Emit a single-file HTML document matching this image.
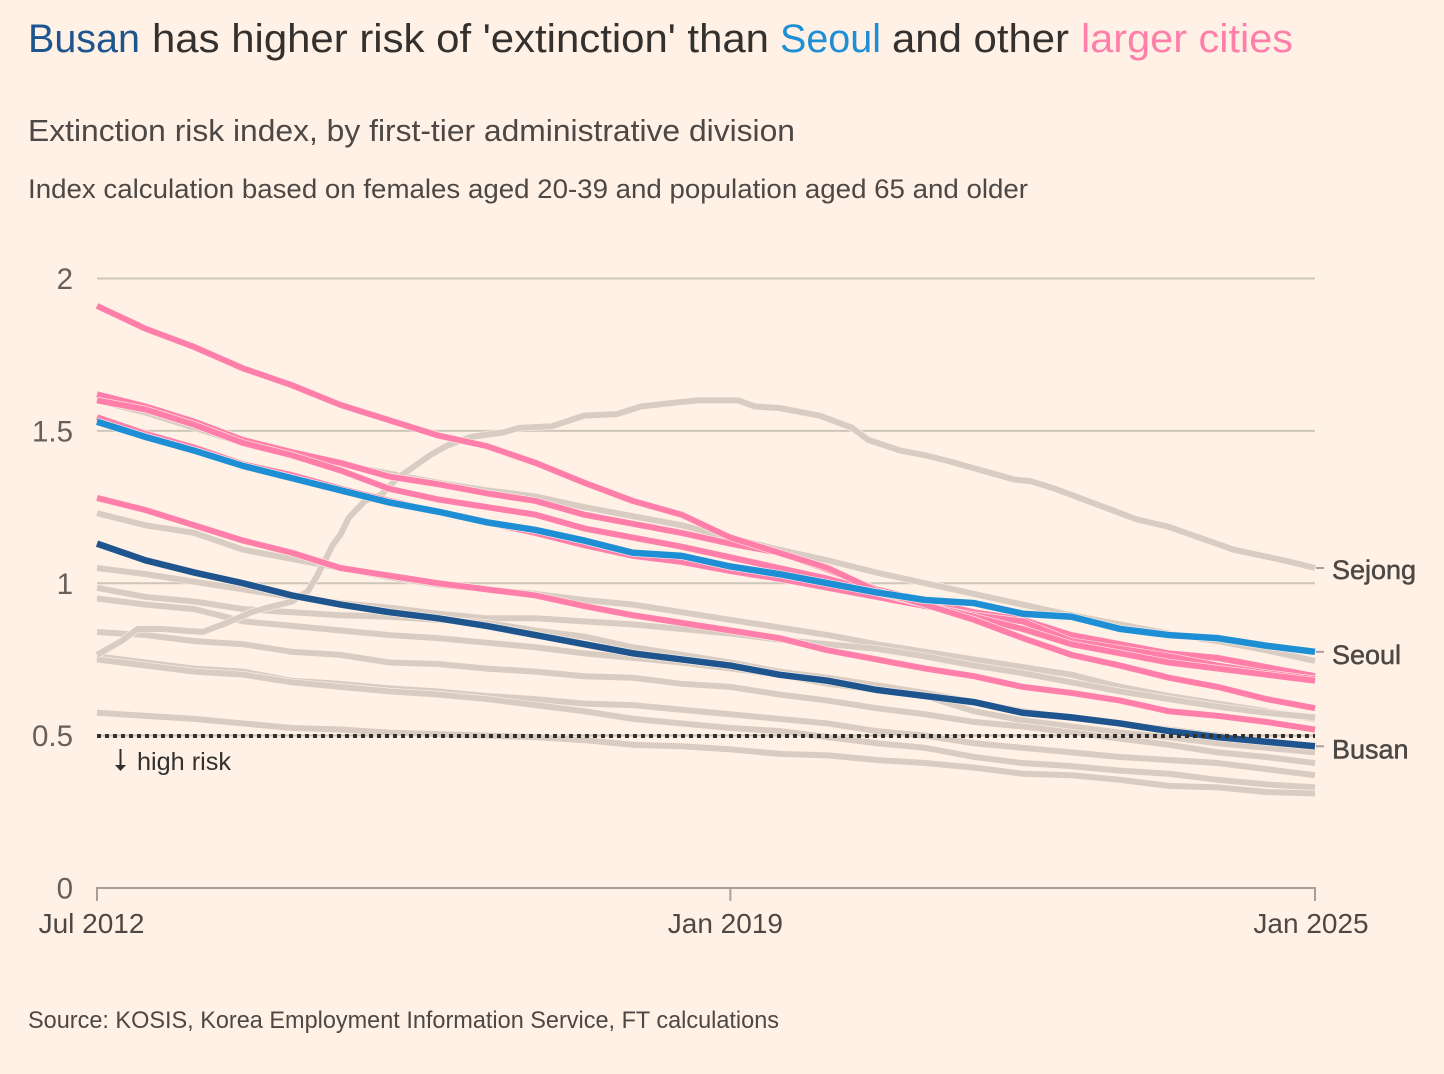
<!DOCTYPE html>
<html lang="en">
<head>
<meta charset="utf-8">
<title>Busan has higher risk of extinction</title>
<style>
html,body{margin:0;padding:0;background:#FFF1E5;}
svg{display:block;font-family:"Liberation Sans",sans-serif;}
</style>
</head>
<body>
<svg id="chart" xmlns="http://www.w3.org/2000/svg" width="1444" height="1074" viewBox="0 0 1444 1074">
  <rect x="0" y="0" width="1444" height="1074" fill="#FFF1E5"/>
  <g font-size="40">
    <text x="28" y="52" fill="#1E558E" textLength="112" lengthAdjust="spacingAndGlyphs">Busan</text>
    <text x="152" y="52" fill="#33302E" textLength="617" lengthAdjust="spacingAndGlyphs">has higher risk of 'extinction' than</text>
    <text x="780" y="52" fill="#1E8FD5" textLength="101" lengthAdjust="spacingAndGlyphs">Seoul</text>
    <text x="892" y="52" fill="#33302E" textLength="177" lengthAdjust="spacingAndGlyphs">and other</text>
    <text x="1081" y="52" fill="#FF7FAA" textLength="212" lengthAdjust="spacingAndGlyphs">larger cities</text>
  </g>
  <text x="28" y="141" font-size="31" fill="#4D4845" textLength="767" lengthAdjust="spacingAndGlyphs">Extinction risk index, by first-tier administrative division</text>
  <text x="28" y="198" font-size="27" fill="#4D4845" textLength="1000" lengthAdjust="spacingAndGlyphs">Index calculation based on females aged 20-39 and population aged 65 and older</text>
  <g id="grid"></g>
  <g id="yLabels"></g>
  <g id="series"></g>
  <g id="threshold"></g>
  <text x="137" y="770" font-size="25" fill="#33302E" textLength="94" lengthAdjust="spacingAndGlyphs">high risk</text>
  <g stroke="#33302E" fill="none" stroke-width="2">
    <path d="M120.5 749V770"/>
    <path d="M115 765L120.5 771L126 765Z" fill="#33302E" stroke="none"/>
  </g>
  <g id="xAxis"></g>
  <g id="endLabels"></g>
  <text x="28" y="1028" font-size="24" fill="#4D4845" textLength="751" lengthAdjust="spacingAndGlyphs">Source: KOSIS, Korea Employment Information Service, FT calculations</text>
</svg>
<script>
const months = [0,6,12,18,24,30,36,42,48,54,60,66,72,78,84,90,96,102,108,114,120,126,132,138,144,150];

const otherA = [1.60,1.56,1.51,1.46,1.42,1.39,1.36,1.33,1.305,1.285,1.25,1.22,1.19,1.15,1.11,1.075,1.035,1.00,.965,.93,.895,.865,.835,.81,.78,.745];
const otherB = [1.23,1.19,1.165,1.11,1.08,1.05,1.02,.995,.98,.965,.945,.93,.905,.88,.855,.83,.80,.775,.75,.725,.70,.66,.63,.605,.58,.555];
const otherC = [1.05,1.03,1.005,.98,.955,.935,.92,.90,.885,.885,.875,.865,.85,.835,.815,.80,.785,.76,.73,.705,.675,.645,.62,.595,.575,.56];
const otherD = [.985,.955,.94,.915,.905,.895,.89,.88,.87,.845,.825,.79,.765,.74,.71,.69,.665,.64,.61,.58,.56,.54,.52,.50,.48,.465];
const otherE = [.95,.93,.915,.875,.86,.845,.83,.82,.805,.79,.77,.755,.74,.72,.70,.67,.65,.63,.58,.55,.53,.51,.495,.475,.46,.445];
const otherF = [.84,.83,.81,.80,.775,.765,.74,.735,.72,.71,.695,.69,.67,.66,.635,.615,.59,.57,.545,.53,.51,.49,.47,.445,.43,.41];
const otherG = [.76,.74,.72,.71,.68,.67,.655,.645,.63,.62,.605,.60,.585,.57,.555,.54,.515,.50,.475,.46,.445,.43,.42,.41,.39,.37];
const otherH = [.75,.73,.71,.70,.675,.66,.645,.635,.62,.60,.58,.555,.54,.525,.515,.495,.475,.46,.43,.41,.40,.385,.375,.355,.34,.33];
const otherI = [.575,.565,.555,.54,.525,.52,.51,.505,.50,.495,.485,.47,.465,.455,.44,.435,.42,.41,.395,.375,.37,.355,.335,.33,.315,.31];

const sejongMonths = [0,3,5,8,13,16,19,21,24,26,27,28,29,30,31,33,35,37,41,43,46,50,52,56,60,64,67,72,74,79,81,84,89,93,95,99,102,105,109,113,115,118,124,128,132,140,147,150];
const sejong = [.765,.81,.85,.85,.84,.87,.905,.92,.94,.975,1.02,1.07,1.125,1.16,1.215,1.27,1.29,1.345,1.42,1.45,1.48,1.495,1.51,1.515,1.55,1.555,1.58,1.595,1.60,1.60,1.58,1.575,1.55,1.51,1.47,1.435,1.42,1.40,1.37,1.34,1.335,1.31,1.25,1.21,1.185,1.11,1.07,1.05];

const cityA = [1.62,1.58,1.53,1.47,1.43,1.395,1.35,1.325,1.295,1.27,1.225,1.195,1.165,1.13,1.10,1.045,.98,.94,.905,.88,.83,.80,.77,.755,.725,.695];
const cityB = [1.545,1.49,1.445,1.39,1.355,1.31,1.27,1.235,1.20,1.165,1.125,1.09,1.07,1.04,1.015,.985,.955,.925,.895,.875,.81,.785,.76,.73,.705,.685];
const cityC = [1.60,1.57,1.52,1.46,1.42,1.37,1.31,1.275,1.25,1.225,1.18,1.15,1.12,1.085,1.05,1.015,.97,.93,.89,.85,.80,.77,.74,.72,.70,.68];
const cityD = [1.28,1.24,1.19,1.14,1.10,1.05,1.025,1.00,.98,.96,.925,.895,.87,.845,.82,.78,.75,.72,.695,.66,.64,.615,.58,.565,.545,.52];
const cityE = [1.91,1.835,1.775,1.705,1.65,1.585,1.535,1.485,1.45,1.395,1.33,1.27,1.225,1.15,1.10,1.05,.975,.93,.88,.82,.765,.73,.69,.66,.62,.59];

const seoul = [1.53,1.48,1.435,1.385,1.345,1.305,1.265,1.235,1.20,1.175,1.14,1.10,1.09,1.055,1.03,1.00,.97,.945,.935,.90,.89,.85,.83,.82,.795,.775];
const busan = [1.13,1.075,1.035,1.00,.96,.93,.905,.885,.86,.83,.80,.77,.75,.73,.70,.68,.65,.63,.61,.575,.56,.54,.515,.495,.48,.465];

const yTicks = [0,0.5,1,1.5,2];
const yTickLabels = ["0","0.5","1","1.5","2"];
const xTickMonths = [0,78,150];
const xTickLabels = ["Jul 2012","Jan 2019","Jan 2025"];
const threshold = 0.5;

const NS = "http://www.w3.org/2000/svg";
const X0 = 97, X1 = 1315, MONTH_SPAN = 150;
const Y0 = 888, Y_PER_UNIT = 304.75;
function xScale(m){ return X0 + (X1 - X0) * m / MONTH_SPAN; }
function yScale(v){ return Y0 - Y_PER_UNIT * v; }
function make(tag, parent){
  const el = document.createElementNS(NS, tag);
  parent.appendChild(el);
  return el;
}
function linePath(ms, vs){
  return ms.map((m,i)=>(i?"L":"M")+xScale(m).toFixed(2)+" "+yScale(vs[i]).toFixed(2)).join("");
}

/* gridlines and y labels */
const gridG = document.getElementById("grid");
const yLabG = document.getElementById("yLabels");
yTicks.forEach((t,i)=>{
  if(t>0){
    const g = make("line", gridG);
    
    
    g.setAttribute("x1", X0); g.setAttribute("x2", X1);
    g.setAttribute("y1", yScale(t)); g.setAttribute("y2", yScale(t));
    g.setAttribute("stroke", "#CEC6B9"); g.setAttribute("stroke-width", "2");
  }
  const lab = make("text", yLabG);
  
  
  lab.setAttribute("x", 73); lab.setAttribute("y", yScale(t)+10.5);
  lab.setAttribute("text-anchor", "end");
  lab.setAttribute("font-size", "29.5");
  lab.setAttribute("fill", "#66605C");
  lab.textContent = yTickLabels[i];
});

/* series: greys first, then pink cities, then Seoul, then Busan */
const seriesG = document.getElementById("series");
const GREY = "#D9CCC2", PINK = "#FF7FAA", SEOUL = "#1E8FD5", BUSAN = "#1E558E";
function drawSeries(ms, vs, color, width, name){
  const halo = make("path", seriesG);
  
  
  halo.setAttribute("d", linePath(ms, vs));
  halo.setAttribute("fill", "none");
  halo.setAttribute("stroke", "#FFF1E5");
  halo.setAttribute("stroke-width", width + 1.2);
  const p = make("path", seriesG);
  
  
  p.setAttribute("d", linePath(ms, vs));
  p.setAttribute("fill", "none");
  p.setAttribute("stroke", color);
  p.setAttribute("stroke-width", width);
  p.setAttribute("stroke-linejoin", "miter");
}
drawSeries(months, otherA, GREY, 6, "other-region-line-a");
drawSeries(months, otherB, GREY, 6, "other-region-line-b");
drawSeries(months, otherC, GREY, 6, "other-region-line-c");
drawSeries(months, otherD, GREY, 6, "other-region-line-d");
drawSeries(months, otherE, GREY, 6, "other-region-line-e");
drawSeries(months, otherF, GREY, 6, "other-region-line-f");
drawSeries(months, otherG, GREY, 6, "other-region-line-g");
drawSeries(months, otherH, GREY, 6, "other-region-line-h");
drawSeries(months, otherI, GREY, 6, "other-region-line-i");
drawSeries(sejongMonths, sejong, GREY, 6, "sejong-line");
drawSeries(months, cityA, PINK, 6, "larger-city-line-a");
drawSeries(months, cityB, PINK, 6, "larger-city-line-b");
drawSeries(months, cityC, PINK, 6, "larger-city-line-c");
drawSeries(months, cityD, PINK, 6, "larger-city-line-d");
drawSeries(months, cityE, PINK, 6, "larger-city-line-e");
drawSeries(months, seoul, SEOUL, 6.5, "seoul-line");
drawSeries(months, busan, BUSAN, 6.5, "busan-line");

/* dotted threshold */
const thG = document.getElementById("threshold");
const th = make("line", thG);


th.setAttribute("x1", X0); th.setAttribute("x2", X1);
th.setAttribute("y1", 736); th.setAttribute("y2", 736);
th.setAttribute("stroke", "#33302E");
th.setAttribute("stroke-width", "4");
th.setAttribute("stroke-dasharray", "4 4");

/* x axis */
const xG = document.getElementById("xAxis");
const axisLine = make("line", xG);


axisLine.setAttribute("x1", X0); axisLine.setAttribute("x2", X1);
axisLine.setAttribute("y1", Y0); axisLine.setAttribute("y2", Y0);
axisLine.setAttribute("stroke", "#A7A097"); axisLine.setAttribute("stroke-width", "2");
xTickMonths.forEach((m,i)=>{
  const t = make("line", xG);
  
  
  t.setAttribute("x1", xScale(m)); t.setAttribute("x2", xScale(m));
  t.setAttribute("y1", Y0-1); t.setAttribute("y2", Y0+13);
  t.setAttribute("stroke", "#A7A097"); t.setAttribute("stroke-width", "2");
  const lab = make("text", xG);
  
  
  lab.setAttribute("x", xScale(m) - (i===0?5.5:i===1?5:4));
  lab.setAttribute("y", 933);
  lab.setAttribute("text-anchor", "middle");
  lab.setAttribute("font-size", "28");
  lab.setAttribute("fill", "#4D4845");
  lab.textContent = xTickLabels[i];
});

/* end labels with connector ticks */
const endG = document.getElementById("endLabels");
const endNames = ["Sejong","Seoul","Busan"];
const endValues = [sejong[sejong.length-1], seoul[seoul.length-1], busan[busan.length-1]];
endNames.forEach((n,i)=>{
  const yy = yScale(endValues[i]);
  const c = make("line", endG);
  
  
  c.setAttribute("x1", X1+1); c.setAttribute("x2", X1+9);
  c.setAttribute("y1", yy); c.setAttribute("y2", yy);
  c.setAttribute("stroke", "#A7A0A0"); c.setAttribute("stroke-width", "2");
  const lab = make("text", endG);
  
  
  lab.setAttribute("x", 1332);
  lab.setAttribute("y", yy + (i===0?11:12));
  lab.setAttribute("font-size", "27");
  lab.setAttribute("fill", "#4D4845");
  lab.setAttribute("stroke", "#4D4845");
  lab.setAttribute("stroke-width", "0.5");
  lab.textContent = n;
});
</script>
</body>
</html>
